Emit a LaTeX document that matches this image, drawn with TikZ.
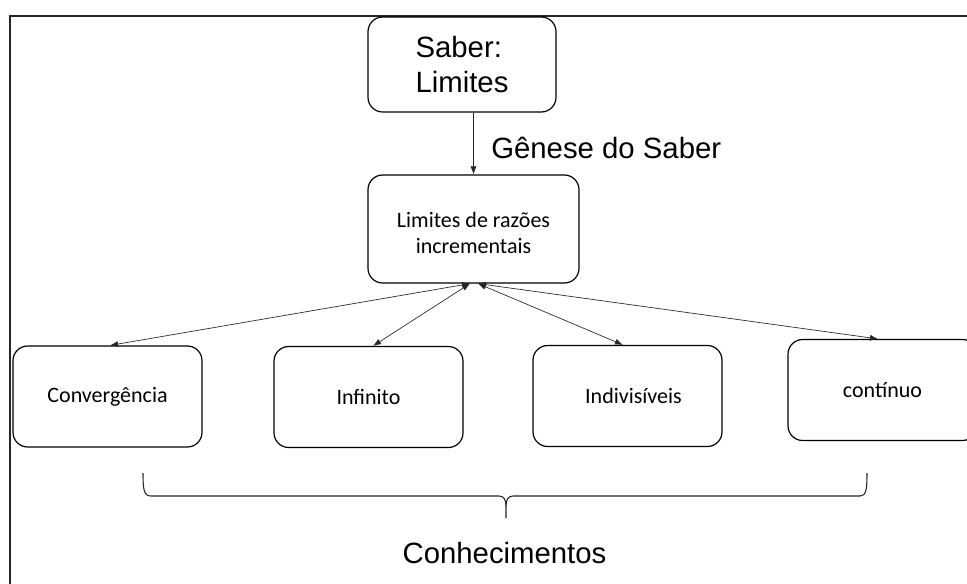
\documentclass[tikz,border=0pt]{standalone}
\usepackage{fontspec}
\setmainfont{Liberation Sans}
\newfontfamily\calib{Carlito}
\usetikzlibrary{arrows.meta}
\begin{document}
\begin{tikzpicture}[x=0.75pt,y=-0.75pt,
  box/.style={draw=black,line width=0.9pt,rounded corners=11pt,inner sep=0pt,align=center},
  bigtxt/.style={font=\fontsize{22}{26.25}\selectfont},
  smalltxt/.style={font=\calib\fontsize{16.5}{19.5}\selectfont},
  lowbox/.style={box,smalltxt,minimum width=141.75pt,minimum height=75.75pt},
  link/.style={draw=black!85,line width=0.5pt,{Latex[length=6pt,width=4.5pt]}-{Latex[length=6pt,width=4.5pt]}},
  down/.style={draw=black!85,line width=0.5pt,-{Latex[length=6pt,width=4.5pt]}}]
\useasboundingbox (0,0) rectangle (967,583);
\clip (0,0) rectangle (967,583);
\fill[white] (0,0) rectangle (967,583);
% frame
\draw[line width=1.5pt,draw=black!85] (10,600) -- (10,15.5) -- (1000,15.5);
% boxes
\node[box,bigtxt,align=left,minimum width=141pt,minimum height=71.25pt] (sab) at (462,64.5) {Saber:\\Limites};
\node[box,smalltxt,minimum width=158.25pt,minimum height=81pt] (lim) at (473.5,229) {\rule{0pt}{17pt}Limites de razões\\incrementais};
\node[lowbox] (conv) at (107.5,396.5) {Convergência};
\node[lowbox] (inf) at (368.5,397) {Infinito};
\node[lowbox] (indv) at (627.5,396) {\hspace*{9pt}Indivisíveis};
\node[lowbox] (cont) at (882.5,390) {contínuo};
% labels
\node[bigtxt,anchor=base west,inner sep=0pt] (gen) at (491,158) {Gênese do Saber};
\node[bigtxt,anchor=base,inner sep=0pt] (con) at (504.5,563) {Conhecimentos};
% connectors
\draw[down] (sab.south -| lim.north) -- (lim.north);
\coordinate (tl) at ([xshift=-2.6pt]lim.south);
\coordinate (tr) at ([xshift=3.4pt]lim.south);
\draw[link] (tl) -- ([xshift=1.9pt]conv.north);
\draw[link] (tl) -- ([xshift=3.4pt]inf.north);
\draw[link] (tr) -- ([xshift=-3.4pt]indv.north);
\draw[link] (tr) -- ([xshift=-3.4pt]cont.north);
% brace
\draw[line width=0.8pt,draw=black!85]
  (143,473) .. controls (143,490) and (144,496) .. (151,496) -- (499,496)
  .. controls (504,496) and (506,500) .. (506,506) -- (506,518);
\draw[line width=0.8pt,draw=black!85]
  (506,506) .. controls (506,500) and (508,496) .. (513,496) -- (860,496)
  .. controls (866,496) and (867,490) .. (867,473);
\end{tikzpicture}
\end{document}
